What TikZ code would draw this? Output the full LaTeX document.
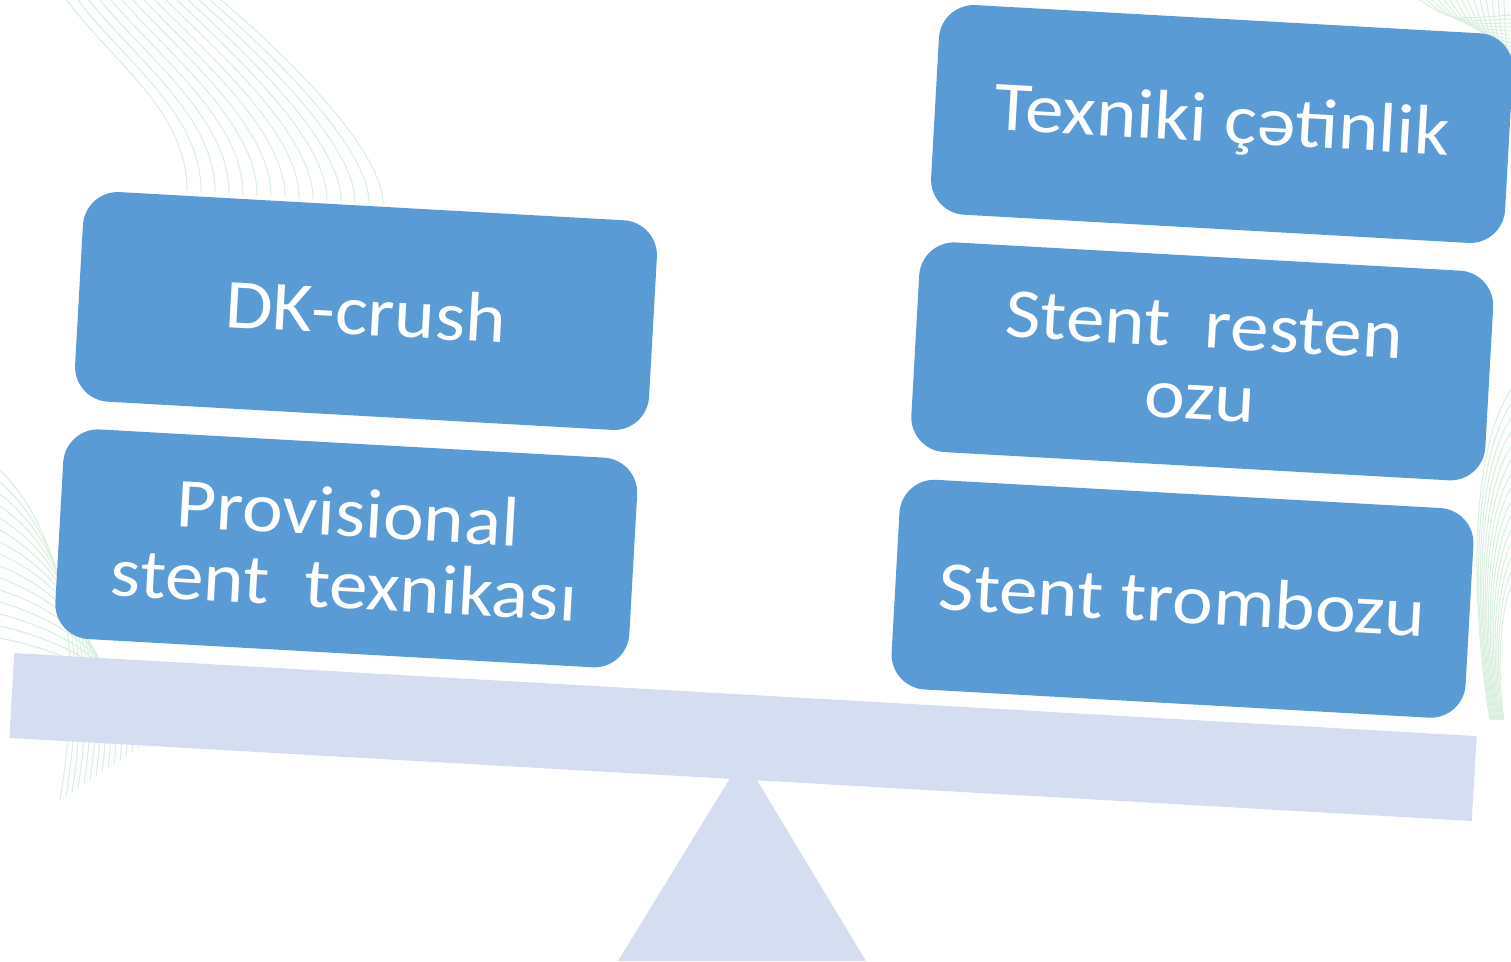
\documentclass[tikz,border=0pt]{standalone}
\usepackage{fontspec}
\usepackage{xcolor}
\newfontfamily\boxfont[FakeStretch=1.1]{Carlito}
\usetikzlibrary{positioning}
\definecolor{boxblue}{RGB}{91,155,213}
\definecolor{beamblue}{RGB}{213,222,240}
\definecolor{swirl}{RGB}{218,239,223}
\tikzstyle{block} = [rectangle, rounded corners = 0.7cm, fill = boxblue, text = white, align = center, minimum width = 11.5cm, minimum height = 4.2cm, rotate = -3.2, font = \boxfont\fontsize{40}{41}\selectfont]
\tikzstyle{beam} = [rectangle, fill = beamblue, minimum width = 29.3cm, minimum height = 1.7cm, rotate = -3.25]
\tikzstyle{swoosh} = [draw = swirl, line width = 0.6pt]

\begin{document}
\begin{tikzpicture}[x = 0.02cm, y = -0.02cm]
        \useasboundingbox (0,0) rectangle (1511,961);
        % faint background lines
        \foreach \i in {0,...,14} {
            \draw[swoosh] ({67+11*\i},0) .. controls ({110+13*\i},60) and ({187+14*\i},{110+3*\i}) .. ({187+14*\i},{190+\i});
            \draw[swoosh] (0,{470+12*\i}) .. controls ({50+4*\i},{520+10*\i}) and ({90+4*\i},{620+6*\i}) .. ({60+6*\i},{800-4*\i});
            \draw[swoosh] ({1420+6*\i},0) .. controls ({1450+4*\i},{20+2*\i}) .. (1511,{15+4*\i});
            \draw[swoosh] (1511,{390+14*\i}) .. controls ({1470+2*\i},{450+12*\i}) and ({1470+2*\i},{600+6*\i}) .. ({1490+\i},720);
        }
        \node (B) [beam] at (743,737) {};
        \coordinate (apex) at (743,757);
        \coordinate (footL) at (618,961);
        \coordinate (footR) at (866,961);
        \fill[beamblue] (apex) -- (footL) -- (footR) -- cycle;
        \node (DK) [block] at (366,311) {DK-crush};
        \node (P) [block, below = 0.55cm of DK, xshift = -0.16cm] {Provisional\\stent~ texnikası};
        \node (T) [block] at (1222,124) {Texniki çətinlik};
        \node (R) [block, below = 0.55cm of T, xshift = -0.16cm] {Stent~ resten\\ozu};
        \node (Z) [block, below = 0.55cm of R, xshift = -0.16cm] {Stent trombozu};
    \end{tikzpicture}
\end{document}
